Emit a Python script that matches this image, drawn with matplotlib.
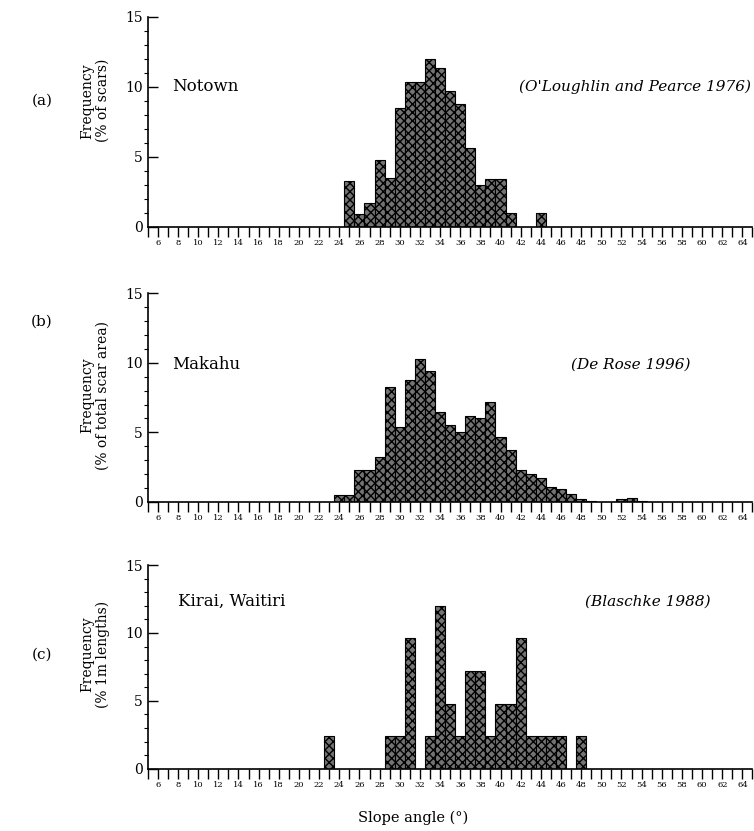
import matplotlib
matplotlib.use("Agg")
import matplotlib.pyplot as plt
from matplotlib.ticker import MultipleLocator

plt.rcParams['font.family'] = ['DejaVu Serif']

# slope angle bins (degrees) and frequencies
notown_deg = [25, 26, 27, 28, 29, 30, 31, 32, 33, 34, 35, 36, 37, 38, 39, 40, 41, 44]
notown_pct = [3.3, 0.9, 1.7, 4.8, 3.5, 8.5, 10.3, 10.3, 12.0, 11.3, 9.7, 8.8, 5.6, 3.0, 3.4, 3.4, 1.0, 1.0]

makahu_deg = [24, 25, 26, 27, 28, 29, 30, 31, 32, 33, 34, 35, 36, 37, 38, 39, 40,
              41, 42, 43, 44, 45, 46, 47, 48, 49, 52, 53, 54]
makahu_pct = [0.5, 0.5, 2.3, 2.3, 3.2, 8.3, 5.4, 8.8, 10.3, 9.4, 6.5, 5.5, 5.0, 6.2, 6.0, 7.2, 4.7,
              3.7, 2.3, 2.0, 1.7, 1.1, 0.9, 0.6, 0.2, 0.1, 0.2, 0.3, 0.1]

kiwi_deg = [23, 29, 30, 31, 33, 34, 35, 36, 37, 38, 39, 40, 41, 42, 43, 44, 45, 46, 48]
kiwi_pct = [2.4, 2.4, 2.4, 9.6, 2.4, 12.0, 4.8, 2.4, 7.2, 7.2, 2.4, 4.8, 4.8, 9.6, 2.4, 2.4, 2.4, 2.4, 2.4]

panel_tags = ['(a)', '(b)', '(c)']
site_names = ['Notown', 'Makahu', 'Kirai, Waitiri']
sources = ['(O\'Loughlin and Pearce 1976)', '(De Rose 1996)', '(Blaschke 1988)']
ylabels = ['Frequency\n(% of scars)', 'Frequency\n(% of total scar area)', 'Frequency\n(% 1m lengths)']
xtick_vals = list(range(6, 65, 2))

fig = plt.figure(figsize=(7.54, 8.31), dpi=100)

# [left, bottom, width, height] in figure fractions
boxes = [[0.196, 0.727, 0.802, 0.253],
         [0.196, 0.396, 0.802, 0.251],
         [0.196, 0.075, 0.802, 0.245]]
data = [(notown_deg, notown_pct), (makahu_deg, makahu_pct), (kiwi_deg, kiwi_pct)]
name_pos = [(7.4, 10.0), (7.4, 9.85), (8.0, 12.3)]
src_pos = [(64.9, 10.0), (58.8, 9.85), (60.8, 12.3)]
tag_y = [101, 322, 655]
ylab_y = [0.60, 0.51, 0.56]

for i in range(3):
    ax = fig.add_axes(boxes[i])
    deg, pct = data[i]
    ax.bar(deg, pct, width=1.0, align='center', facecolor='0.45',
           edgecolor='black', hatch='xxxx', linewidth=0.8)
    ax.set_xlim(5, 65)
    ax.set_ylim(0, 15)
    for s in ['top', 'right']:
        ax.spines[s].set_visible(False)
    ax.spines['left'].set_linewidth(1.2)
    ax.spines['bottom'].set_linewidth(1.2)

    ax.set_xticks(xtick_vals)
    ax.set_xticklabels([str(v) for v in xtick_vals], fontsize=6)
    ax.xaxis.set_minor_locator(MultipleLocator(1))
    ax.tick_params(axis='x', which='both', direction='out', length=7, width=1.0, pad=2)
    ax.set_yticks([0, 5, 10, 15])
    ax.yaxis.set_minor_locator(MultipleLocator(1))
    ax.tick_params(axis='y', which='major', direction='in', length=7, width=1.0, labelsize=10)
    ax.tick_params(axis='y', which='minor', direction='out', length=3, width=0.8)

    ax.set_ylabel(ylabels[i], fontsize=10, linespacing=1.1)
    ax.yaxis.set_label_coords(-0.063, ylab_y[i])
    fig.text(42 / 754, 1 - tag_y[i] / 831, panel_tags[i], fontsize=11,
             ha='center', va='center')
    ax.text(name_pos[i][0], name_pos[i][1], site_names[i], fontsize=12,
            ha='left', va='center')
    ax.text(src_pos[i][0], src_pos[i][1], sources[i], fontsize=11, style='italic',
            ha='right', va='center')

ax.set_xlabel('Slope angle (°)', fontsize=10.5)
ax.xaxis.set_label_coords(0.438, -0.205)

fig.savefig('out.png', dpi=100)
